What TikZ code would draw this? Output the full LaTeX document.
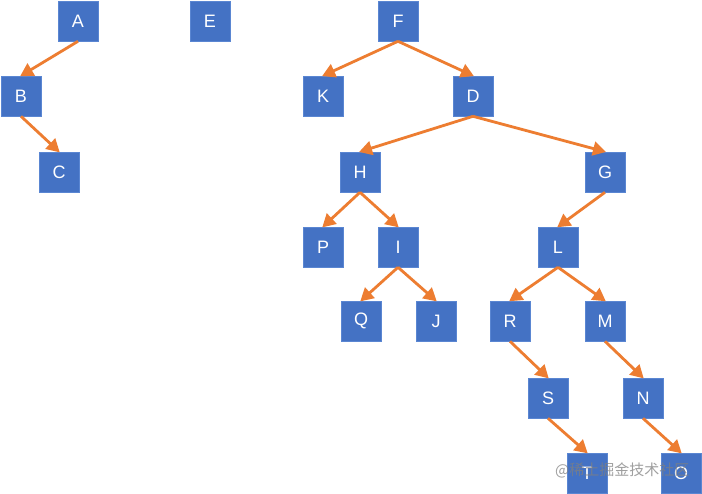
\documentclass[tikz,border=0pt]{standalone}
\usepackage{fontspec}
\setmainfont{Liberation Sans}
\newfontfamily\cjk{Noto Sans CJK SC}
\usetikzlibrary{arrows.meta}
\definecolor{boxblue}{HTML}{4472C4}
\definecolor{edgeblue}{HTML}{5A86D2}
\definecolor{arrorange}{HTML}{ED7D31}
\begin{document}
\begin{tikzpicture}[x=1pt,y=-1pt,
  tnode/.style={rectangle,minimum width=40pt,minimum height=40pt,inner sep=0pt,
    fill=boxblue,draw=edgeblue,line width=0.6pt,text=white,font=\fontsize{18}{18}\selectfont},
  link/.style={draw=arrorange,line width=2.8pt,-{Triangle[length=13pt,width=14pt]},shorten >=-1pt}]
\useasboundingbox (0,0) rectangle (702,494);
\fill[white] (0,0) rectangle (702,494);
\node[tnode] (A) at (78,21) {A};
\node[tnode] (E) at (210,21) {E};
\node[tnode] (F) at (398,21) {F};
\node[tnode] (B) at (21,96) {B};
\node[tnode] (C) at (59,172) {C};
\node[tnode] (K) at (323,96) {K};
\node[tnode] (D) at (473,96) {D};
\node[tnode] (H) at (360,172) {H};
\node[tnode] (G) at (605,172) {G};
\node[tnode] (P) at (323,247) {P};
\node[tnode] (I) at (398,247) {I};
\node[tnode] (L) at (558,247) {L};
\node[tnode] (Q) at (361,321) {Q};
\node[tnode] (J) at (436,321) {J};
\node[tnode] (R) at (510,321) {R};
\node[tnode] (M) at (605,321) {M};
\node[tnode] (S) at (548,398) {S};
\node[tnode] (N) at (643,398) {N};
\node[tnode] (T) at (587,473) {T};
\node[tnode] (O) at (681,473) {O};
\foreach \p/\c in {A/B,B/C,F/K,F/D,D/H,D/G,H/P,H/I,I/Q,I/J,G/L,L/R,L/M,R/S,M/N,S/T,N/O}
  \draw[link] (\p.south) -- (\c.north);
\node[anchor=west,inner sep=0pt,text=gray,opacity=0.75,font=\cjk\fontsize{15}{15}\selectfont] (wm) at (555,470) {@稀土掘金技术社区};
\end{tikzpicture}
\end{document}
